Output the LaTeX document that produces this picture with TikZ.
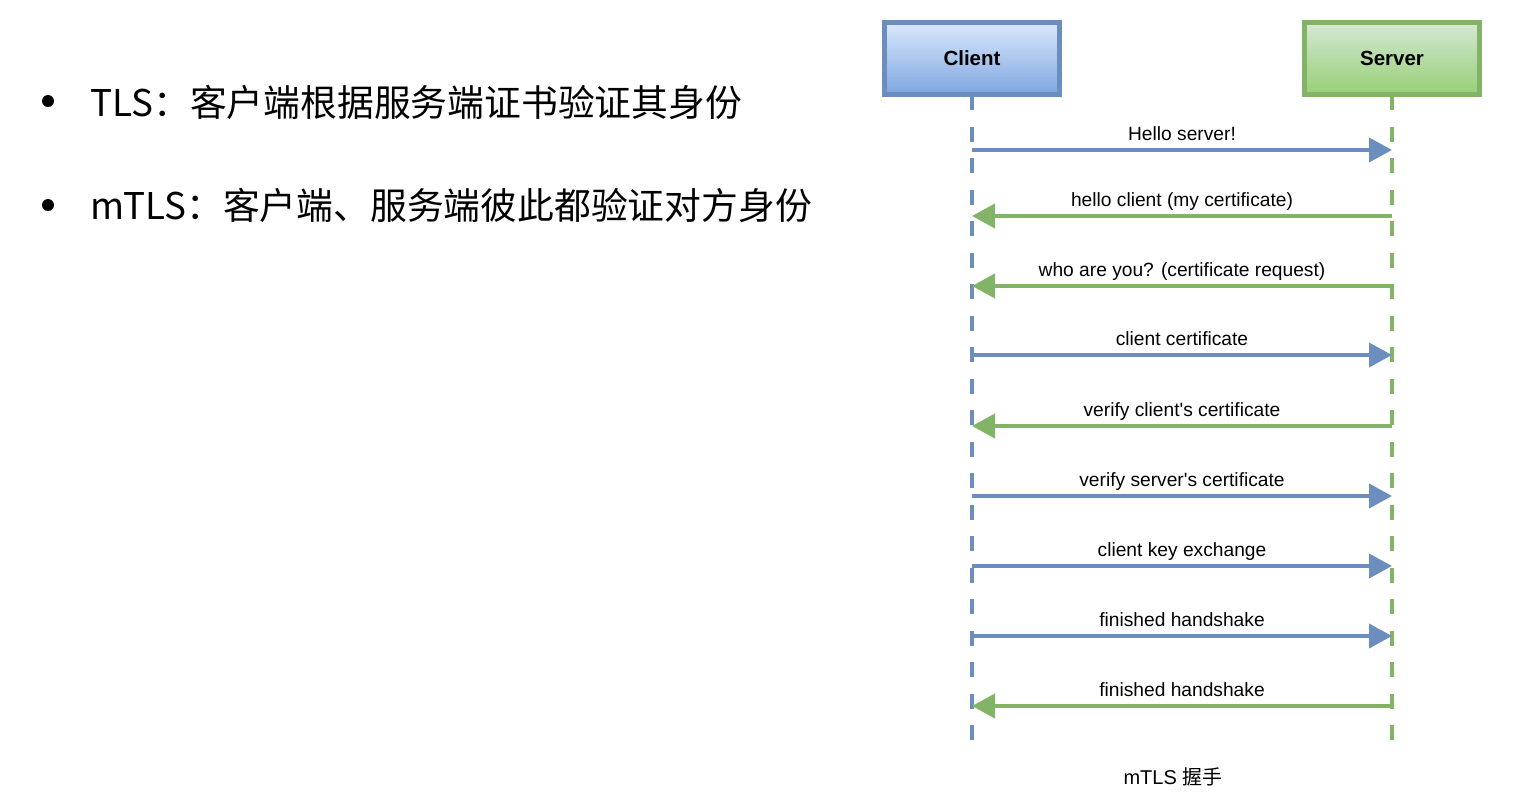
\documentclass[tikz,border=0pt]{standalone}
\usepackage{fontspec}
\setmainfont{Liberation Sans}
\newfontfamily\cjk{Noto Sans CJK SC}
\usetikzlibrary{arrows.meta}
\definecolor{cBorder}{HTML}{6C8EBF}
\definecolor{cTop}{HTML}{DAE8FC}
\definecolor{cBot}{HTML}{7EA6E0}
\definecolor{sBorder}{HTML}{82B366}
\definecolor{sTop}{HTML}{D5E8D4}
\definecolor{sBot}{HTML}{97D077}
\tikzset{
  actor/.style={line width=5pt, minimum width=175pt, minimum height=72pt, inner sep=0pt,
    font=\fontsize{20.5}{24}\selectfont\bfseries},
  lifeline/.style={line width=4.5pt, dash pattern=on 15pt off 16.5pt},
  msg/.style={line width=4pt, -{Triangle[length=23pt,width=24pt]}},
  msgC/.style={msg, draw=cBorder},
  msgS/.style={msg, draw=sBorder},
  lbl/.style={font=\fontsize{19.2}{22}\selectfont, anchor=base, yshift=9.5pt, inner sep=0pt},
  bullettext/.style={font=\cjk\fontsize{36.8}{40}\selectfont, anchor=west, inner sep=0pt},
  bulletdot/.style={circle, fill=black, minimum size=12pt, inner sep=0pt},
}
\begin{document}
\begin{tikzpicture}[x=1pt,y=-1pt]
\useasboundingbox (0,0) rectangle (1524,803);
% bullets
\node[bulletdot] (b1) at (48,101) {};
\node[bullettext] (t1) at (90,102) {TLS：客户端根据服务端证书验证其身份};
\node[bulletdot] (b2) at (48,205) {};
\node[bullettext] (t2) at (90,205) {mTLS：客户端、服务端彼此都验证对方身份};
% lifeline ends
\coordinate (cend) at (972,740);
\coordinate (send) at (1392,740);
% actors (positions)
\path (972,58.5) coordinate (cpos) (1392,58.5) coordinate (spos);
\draw[lifeline, draw=cBorder] (972,95) -- (cend);
\draw[lifeline, draw=sBorder] (1392,95) -- (send);
\node[actor, draw=cBorder, top color=cTop, bottom color=cBot] (client) at (cpos) {\raisebox{-1.5pt}{Client}};
\node[actor, draw=sBorder, top color=sTop, bottom color=sBot] (server) at (spos) {\raisebox{-1.5pt}{Server}};
% message points
\foreach \i/\y in {1/150,2/216,3/286,4/355,5/426,6/496,7/566,8/636,9/706}{
  \coordinate (c\i) at (972,\y);
  \coordinate (s\i) at (1392,\y);
}
\draw[msgC] (c1) -- (s1) node[lbl, midway] {Hello server!};
\draw[msgS] (s2) -- (c2) node[lbl, midway] {hello client (my certificate)};
\draw[msgS] (s3) -- (c3) node[lbl, midway] {who are you? (certificate request)};
\draw[msgC] (c4) -- (s4) node[lbl, midway] {client certificate};
\draw[msgS] (s5) -- (c5) node[lbl, midway] {verify client\textquotesingle s certificate};
\draw[msgC] (c6) -- (s6) node[lbl, midway] {verify server\textquotesingle s certificate};
\draw[msgC] (c7) -- (s7) node[lbl, midway] {client key exchange};
\draw[msgC] (c8) -- (s8) node[lbl, midway] {finished handshake};
\draw[msgS] (s9) -- (c9) node[lbl, midway] {finished handshake};
% caption
\node[font=\fontsize{20}{24}\selectfont, inner sep=0pt] (cap) at (1173,777) {mTLS {\cjk 握手}};
\end{tikzpicture}
\end{document}
